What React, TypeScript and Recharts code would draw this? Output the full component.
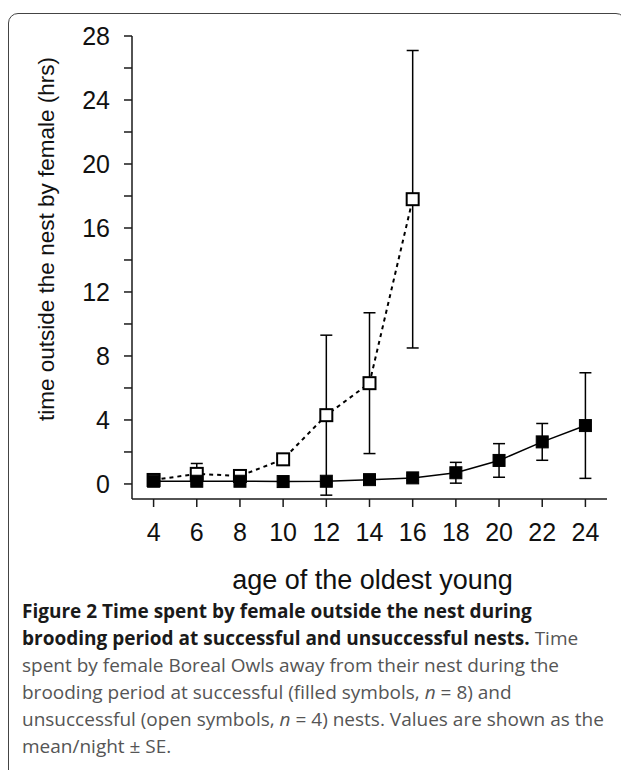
import React from "react";
import { LineChart, Line, XAxis, YAxis, ErrorBar, Label } from "recharts";

// age of the oldest young (days)
const ages = [4, 6, 8, 10, 12, 14, 16, 18, 20, 22, 24];
// successful nests (filled symbols)
const successMean = [0.17, 0.17, 0.17, 0.15, 0.17, 0.27, 0.38, 0.7, 1.47, 2.63, 3.65];
const successSE = [0.05, 0.05, 0.05, 0.05, 0.1, 0.1, 0.15, 0.65, 1.05, 1.15, 3.3];
// unsuccessful nests (open symbols), ages 4..16
const failMean = [0.25, 0.63, 0.5, 1.54, 4.3, 6.3, 17.8];
const failSE = [0.05, 0.65, 0.1, 0.1, 5.0, 4.4, 9.3];
const yTicks = [0, 2, 4, 6, 8, 10, 12, 14, 16, 18, 20, 22, 24, 26, 28];

const data = ages.map((age, i) => ({
  age,
  success: successMean[i],
  successErr: successSE[i],
  fail: i < failMean.length ? failMean[i] : null,
  failErr: i < failSE.length ? failSE[i] : null,
}));

const AXIS = "#1a1a1a";
const FONT = "'Liberation Sans', Arial, sans-serif";

const YTick = (props: any) => {
  const { x, y, payload } = props;
  if (payload.value % 4 !== 0) return <g />;
  return (
    <text x={x} y={y} textAnchor="end" dominantBaseline="central" fontSize={25} fontFamily={FONT} fill="#111">
      {payload.value}
    </text>
  );
};

const XTick = (props: any) => {
  const { x, y, payload } = props;
  return (
    <text x={x} y={y} textAnchor="middle" dominantBaseline="hanging" fontSize={25} fontFamily={FONT} fill="#111">
      {payload.value}
    </text>
  );
};

const Square = (filled: boolean) => (props: any) => {
  const { cx, cy, index } = props;
  if (cx == null || cy == null) return <g key={index} />;
  const s = 12;
  return (
    <rect
      key={index}
      x={cx - s / 2}
      y={cy - s / 2}
      width={s}
      height={s}
      fill={filled ? "#000" : "#fff"}
      stroke="#000"
      strokeWidth={filled ? 1 : 2}
    />
  );
};

const YLabel = (props: any) => {
  const { viewBox } = props;
  const cx = 37;
  const cy = viewBox.y + 203;
  return (
    <text
      x={cx}
      y={cy}
      transform={`rotate(-90, ${cx}, ${cy})`}
      textAnchor="middle"
      dominantBaseline="central"
      fontSize={22.5}
      fontFamily={FONT}
      fill="#111"
    >
      time outside the nest by female (hrs)
    </text>
  );
};

const XLabel = (props: any) => {
  const { viewBox } = props;
  return (
    <text
      x={viewBox.x + viewBox.width / 2 + 3}
      y={viewBox.y + 81}
      textAnchor="middle"
      dominantBaseline="central"
      fontSize={27}
      fontFamily={FONT}
      fill="#111"
    >
      age of the oldest young
    </text>
  );
};

export default function App() {
  return (
    <div
      style={{
        marginTop: 5,
        width: 618,
        height: 780,
        border: "1.5px solid #444",
        borderRadius: 10,
        boxSizing: "border-box",
        overflow: "hidden",
      }}
    >
      <LineChart width={614} height={584} data={data} margin={{ top: 22, right: 16, bottom: 19, left: 0 }}>
        <XAxis
          dataKey="age"
          type="number"
          domain={[3, 25]}
          ticks={ages}
          interval={0}
          tickSize={8}
          tickMargin={16}
          height={80}
          axisLine={{ stroke: AXIS, strokeWidth: 1.5 }}
          tickLine={{ stroke: AXIS, strokeWidth: 1.5 }}
          tick={<XTick />}
        >
          <Label content={<XLabel />} />
        </XAxis>
        <YAxis
          type="number"
          domain={[-0.94, 28]}
          allowDataOverflow
          ticks={yTicks}
          interval={0}
          tickSize={8}
          tickMargin={14}
          width={123}
          axisLine={{ stroke: AXIS, strokeWidth: 1.5 }}
          tickLine={{ stroke: AXIS, strokeWidth: 1.5 }}
          tick={<YTick />}
        >
          <Label content={<YLabel />} />
        </YAxis>
        <Line
          dataKey="fail"
          type="linear"
          stroke="#000"
          strokeWidth={2}
          strokeDasharray="4 4"
          dot={Square(false)}
          activeDot={false}
          connectNulls={false}
          isAnimationActive={false}
        >
          <ErrorBar dataKey="failErr" direction="y" width={6} stroke="#000" strokeWidth={1.5} />
        </Line>
        <Line
          dataKey="success"
          type="linear"
          stroke="#000"
          strokeWidth={1.5}
          dot={Square(true)}
          activeDot={false}
          isAnimationActive={false}
        >
          <ErrorBar dataKey="successErr" direction="y" width={6} stroke="#000" strokeWidth={1.5} />
        </Line>
      </LineChart>
      <div
        style={{
          paddingLeft: 13,
          fontFamily: "'Open Sans', 'Noto Sans', sans-serif",
          fontSize: 19,
          lineHeight: "27px",
          color: "#555",
          whiteSpace: "nowrap",
        }}
      >
        <b style={{ color: "#1a1a1a", fontWeight: 700 }}>Figure 2 Time spent by female outside the nest during</b>
        <br />
        <b style={{ color: "#1a1a1a", fontWeight: 700 }}>brooding period at successful and unsuccessful nests.</b> Time
        <br />
        spent by female Boreal Owls away from their nest during the
        <br />
        brooding period at successful (filled symbols, <i>n</i> = 8) and
        <br />
        unsuccessful (open symbols, <i>n</i> = 4) nests. Values are shown as the
        <br />
        mean/night ± SE.
      </div>
    </div>
  );
}
